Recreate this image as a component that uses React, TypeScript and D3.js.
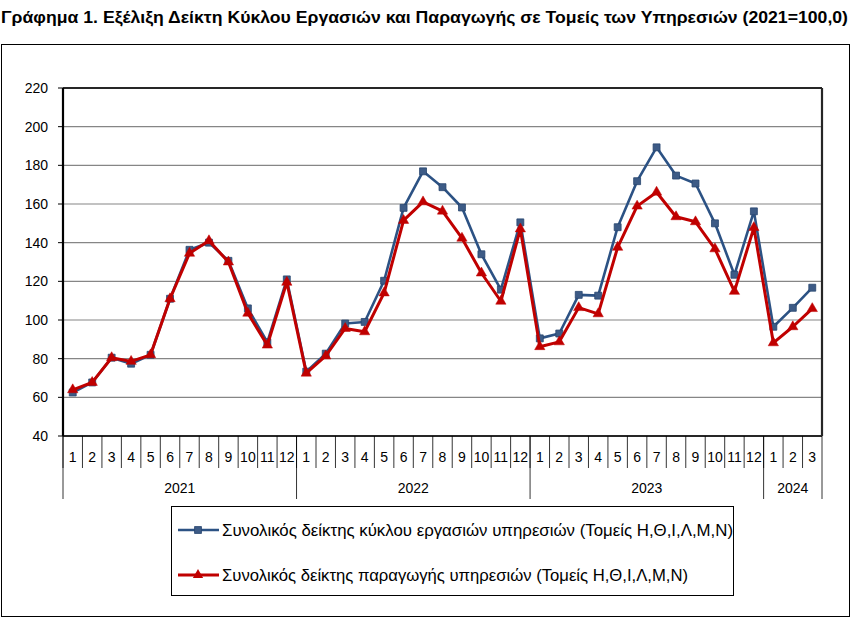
import React from 'react';
import * as d3 from 'd3';

// Chart data
const years = ['2021', '2022', '2023', '2024'];
const monthsPerYear = [12, 12, 12, 3];

const turnoverIndex = [
    62.5, 67.7, 80.5, 77.4, 82.0, 111.0, 136.3, 140.0, 130.6, 106.0, 88.5, 121.0,
    73.3, 82.6, 98.2, 99.0, 120.3, 158.0, 176.9, 168.7, 158.2, 134.0, 115.7, 150.5,
    90.5, 93.0, 113.0, 112.6, 148.0, 171.8, 189.3, 174.7, 170.6, 150.0, 123.4, 156.2,
    96.5, 106.3, 116.7,
];

const productionIndex = [
    63.9, 67.7, 80.5, 78.6, 82.0, 111.0, 134.5, 141.0, 130.0, 103.5, 87.0, 119.5,
    72.5, 81.4, 95.6, 93.9, 114.0, 151.5, 161.1, 156.3, 142.3, 124.3, 109.7, 147.1,
    86.2, 88.7, 106.4, 103.2, 137.6, 158.9, 166.1, 153.4, 150.8, 136.8, 114.8, 147.8,
    88.2, 96.5, 105.9,
];

const yTicks = [40, 60, 80, 100, 120, 140, 160, 180, 200, 220];

const titleText = 'Γράφημα 1. Εξέλιξη Δείκτη Κύκλου Εργασιών και Παραγωγής σε Τομείς των Υπηρεσιών (2021=100,0)';
const seriesNames = [
    'Συνολικός δείκτης κύκλου εργασιών υπηρεσιών (Τομείς Η,Θ,Ι,Λ,Μ,Ν)',
    'Συνολικός δείκτης παραγωγής υπηρεσιών (Τομείς Η,Θ,Ι,Λ,Μ,Ν)',
];

const BLUE = '#2c5284';
const BLUE_MARK = '#3d5b86';
const RED = '#c00000';
const FONT = "'Liberation Sans', Arial, sans-serif";

const W = 851;
const H = 618;

export default function App() {
    // month labels built from years
    const months: { label: string; year: string }[] = [];
    years.forEach((y, yi) => {
        for (let m = 1; m <= monthsPerYear[yi]; m++) months.push({ label: String(m), year: y });
    });
    const idx = months.map((_, i) => i);

    const margin = { left: 63, right: 822, top: 88, bottom: 436 };

    const x = d3.scaleBand<number>()
        .domain(idx)
        .range([margin.left, margin.right])
        .padding(0);
    const bw = x.bandwidth();
    const cx = (i: number) => (x(i) as number) + bw / 2;

    const y = d3.scaleLinear()
        .domain([40, 220])
        .range([margin.bottom, margin.top]);

    const line = d3.line<number>()
        .x((_, i) => cx(i))
        .y(d => y(d));

    const square = d3.symbol().type(d3.symbolSquare).size(48)();
    const triangle = d3.symbol().type(d3.symbolTriangle).size(46)();

    // year groups
    let acc = 0;
    const yearGroups = years.map((yr, yi) => {
        const start = acc;
        acc += monthsPerYear[yi];
        return { yr, start, end: acc };
    });
    const xEdge = (i: number) => (i >= idx.length ? margin.right : (x(i) as number));

    const monthRowBottom = 468;
    const yearRowBottom = 499;

    return (
        <svg width={W} height={H} style={{ position: 'absolute', left: 0, top: 0, background: '#fff' }}
            fontFamily={FONT}>
            {/* title */}
            <text x={1} y={23} fontSize={17} fontWeight="bold" fill="#000"
                textLength={847} lengthAdjust="spacingAndGlyphs">{titleText}</text>

            {/* outer chart frame */}
            <rect x={1.5} y={44.5} width={848} height={572} fill="none" stroke="#000" strokeWidth={1} />

            {/* gridlines */}
            {yTicks.map(t => (
                <line key={'g' + t} x1={margin.left} x2={margin.right} y1={y(t)} y2={y(t)}
                    stroke="#868686" strokeWidth={1.2} />
            ))}

            {/* y ticks and labels */}
            {yTicks.map(t => (
                <g key={'t' + t}>
                    <line x1={margin.left - 5} x2={margin.left} y1={y(t)} y2={y(t)} stroke="#000" strokeWidth={1} />
                    <text x={48} y={y(t)} dy="0.35em" textAnchor="end" fontSize={14} fill="#000">{t}</text>
                </g>
            ))}

            {/* plot border */}
            <line x1={margin.left} x2={margin.right} y1={margin.top} y2={margin.top} stroke="#262626" strokeWidth={2.2} />
            <line x1={margin.right} x2={margin.right} y1={margin.top} y2={margin.bottom} stroke="#262626" strokeWidth={2.2} />
            <line x1={margin.left} x2={margin.right} y1={margin.bottom} y2={margin.bottom} stroke="#262626" strokeWidth={2.2} />
            <line x1={margin.left} x2={margin.left} y1={margin.top} y2={margin.bottom} stroke="#000" strokeWidth={2.2} />

            {/* month dividers and labels */}
            {idx.map(i => (
                <g key={'m' + i}>
                    <line x1={x(i) as number} x2={x(i) as number} y1={margin.bottom} y2={monthRowBottom}
                        stroke="#000" strokeWidth={0.8} />
                    <text x={cx(i)} y={457} dy="0.35em" textAnchor="middle" fontSize={14} fill="#000">
                        {months[i].label}
                    </text>
                </g>
            ))}

            {/* year dividers and labels */}
            {yearGroups.map(g => (
                <g key={g.yr}>
                    <line x1={xEdge(g.start)} x2={xEdge(g.start)} y1={margin.bottom} y2={yearRowBottom}
                        stroke="#000" strokeWidth={0.8} />
                    <text x={(xEdge(g.start) + xEdge(g.end)) / 2} y={488} dy="0.35em" textAnchor="middle"
                        fontSize={14} fill="#000">{g.yr}</text>
                </g>
            ))}
            <line x1={margin.right} x2={margin.right} y1={margin.bottom} y2={yearRowBottom} stroke="#000" strokeWidth={0.8} />

            {/* series lines */}
            <path d={line(turnoverIndex) || ''} fill="none" stroke={BLUE} strokeWidth={2.6} strokeLinejoin="round" />
            {turnoverIndex.map((v, i) => (
                <path key={'b' + i} d={square || ''} transform={`translate(${cx(i)},${y(v)})`}
                    fill={BLUE_MARK} stroke="#27456e" strokeWidth={0.8} />
            ))}
            <path d={line(productionIndex) || ''} fill="none" stroke={RED} strokeWidth={3} strokeLinejoin="round" />
            {productionIndex.map((v, i) => (
                <path key={'r' + i} d={triangle || ''} transform={`translate(${cx(i)},${y(v)})`}
                    fill={RED} stroke={RED} strokeWidth={0.5} />
            ))}

            {/* legend */}
            <rect x={171.5} y={506.5} width={562} height={89} fill="#fff" stroke="#000" strokeWidth={1} />
            <line x1={178} x2={219} y1={530} y2={530} stroke={BLUE} strokeWidth={2.6} />
            <path d={square || ''} transform="translate(198,530)" fill={BLUE_MARK} stroke="#27456e" strokeWidth={0.8} />
            <text x={222} y={530} dy="0.35em" fontSize={16} fill="#000" textLength={511}
                lengthAdjust="spacingAndGlyphs">{seriesNames[0]}</text>
            <line x1={178} x2={219} y1={575} y2={575} stroke={RED} strokeWidth={3} />
            <path d={triangle || ''} transform="translate(198,575)" fill={RED} />
            <text x={222} y={575} dy="0.35em" fontSize={16} fill="#000" textLength={466}
                lengthAdjust="spacingAndGlyphs">{seriesNames[1]}</text>
        </svg>
    );
}
